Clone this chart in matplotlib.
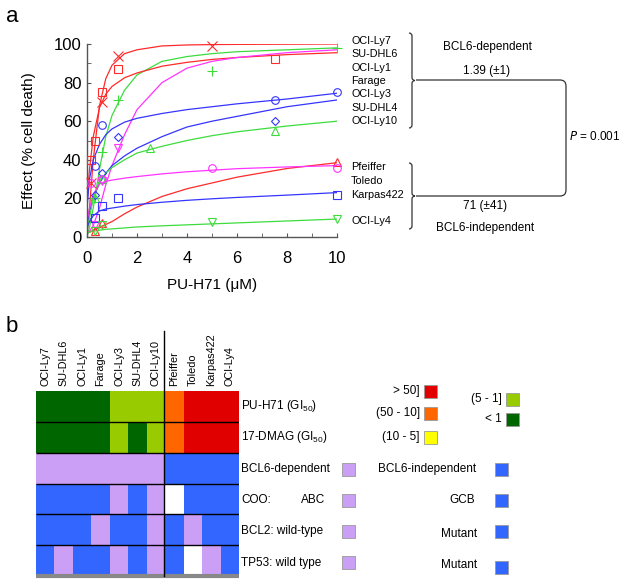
import numpy as np
import matplotlib
matplotlib.use('Agg')
import matplotlib.pyplot as plt
from matplotlib.colors import ListedColormap
from matplotlib.patches import Rectangle, PathPatch
from matplotlib.path import Path

plt.rcParams['font.family'] = ['Liberation Sans', 'DejaVu Sans']
plt.rcParams['mathtext.fontset'] = 'custom'
plt.rcParams['mathtext.rm'] = 'Liberation Sans'

# ---- panel a data ----
cell_lines = ['OCI-Ly7', 'SU-DHL6', 'OCI-Ly1', 'Farage', 'OCI-Ly3', 'SU-DHL4',
              'OCI-Ly10', 'Pfeiffer', 'Toledo', 'Karpas422', 'OCI-Ly4']

# fitted curves sampled at these doses (uM)
curve_dose = [0, 0.1, 0.25, 0.5, 0.75, 1, 1.5, 2, 3, 4, 5, 6, 8, 10]
fit_ly7 = [0, 15, 40, 68, 82, 89, 95, 97, 99, 99.5, 99.7, 99.8, 99.9, 100]
fit_dhl6 = [0, 5, 15, 35, 52, 63, 76, 84, 91, 93.5, 95, 96, 97, 98]
fit_ly1 = [20, 35, 52, 67, 74, 78, 82.5, 85, 88.5, 90.5, 92, 93, 94.5, 95.5]
fit_farage = [2, 3, 6, 15, 27, 37, 53, 66, 80, 87.5, 91, 93, 95.5, 97]
fit_ly3 = [15, 30, 40, 48, 53, 56, 59.5, 61.5, 64, 66, 67.5, 69, 71.5, 74.5]
fit_dhl4 = [5, 13, 20, 28, 33, 37, 42, 46, 52, 57, 60, 62.5, 67.5, 71]
fit_ly10 = [3, 10, 20, 29, 33, 36, 40, 43.5, 47, 50, 52.5, 54.5, 57.5, 60]
fit_pfeiffer = [2, 2.5, 3.5, 5, 6.5, 8, 12, 15.5, 21, 25, 28, 31, 35.5, 38.5]
fit_toledo = [8, 15, 22, 27.5, 28.8, 29.5, 30.5, 31.3, 32.7, 33.8, 34.6, 35.4, 36.3, 37]
fit_karpas = [5, 8, 11, 13.5, 14.5, 15, 16, 16.8, 18, 19, 19.8, 20.5, 21.7, 23]
fit_ly4 = [2, 2.5, 3, 3.5, 4, 4.2, 4.7, 5.2, 5.8, 6.3, 6.8, 7.3, 8.3, 9.3]

# measured points
pts_ly7 = ([0.15, 0.6, 1.25, 5], [28, 70, 94, 99])
pts_dhl6 = ([0.3, 0.6, 1.25, 5, 10], [20, 44, 71, 86, 98])
pts_ly1 = ([0.15, 0.3, 0.6, 1.25, 7.5], [40, 50, 75, 87, 92])
pts_farage = ([0.3, 0.6, 1.25], [6, 29, 46])
pts_ly3 = ([0.3, 0.6, 7.5, 10], [37, 58, 71, 75])
pts_dhl4 = ([0.3, 0.6, 1.25, 7.5], [22, 33, 52, 60])
pts_ly10 = ([0.3, 0.6, 2.5, 7.5], [20, 30, 46, 55])
pts_pfeiffer = ([0.3, 0.6, 10], [3, 7, 39])
pts_toledo = ([0.15, 0.6, 5, 10], [28, 30, 36, 36])
pts_karpas = ([0.3, 0.6, 1.25, 10], [10, 16, 20, 22])
pts_ly4 = ([0.3, 0.6, 5, 10], [3, 6, 8, 9.5])

fits = [fit_ly7, fit_dhl6, fit_ly1, fit_farage, fit_ly3, fit_dhl4, fit_ly10,
        fit_pfeiffer, fit_toledo, fit_karpas, fit_ly4]
points = [pts_ly7, pts_dhl6, pts_ly1, pts_farage, pts_ly3, pts_dhl4, pts_ly10,
          pts_pfeiffer, pts_toledo, pts_karpas, pts_ly4]

RED, GREEN, BLUE, MAG = '#ff2a2a', '#3ddc3d', '#3535ff', '#ff33ff'
colors = [RED, GREEN, RED, MAG, BLUE, BLUE, GREEN, RED, MAG, BLUE, GREEN]
markers = ['x', '+', 's', 'v', 'o', 'D', '^', '^', 'o', 's', 'v']
msizes = [6.5, 6.5, 5.5, 5.5, 5.5, 4.5, 5.5, 5.5, 5.5, 5.5, 5.5]

# ---- panel b data ----
gi50_levels = ['>50', '50-10', '10-5', '5-1', '<1']
gi50_colors = ['#e00000', '#ff6600', '#ffff00', '#99cc00', '#006600']
pu_h71_gi50 = ['<1', '<1', '<1', '<1', '5-1', '5-1', '5-1', '50-10', '>50', '>50', '>50']
dmag_gi50 = ['<1', '<1', '<1', '<1', '5-1', '<1', '5-1', '50-10', '>50', '>50', '>50']
bcl6 = ['dep'] * 7 + ['indep'] * 4
coo = ['GCB', 'GCB', 'GCB', 'GCB', 'ABC', 'GCB', 'ABC', 'NA', 'GCB', 'GCB', 'GCB']
bcl2 = ['mut', 'mut', 'mut', 'wt', 'mut', 'mut', 'wt', 'mut', 'wt', 'mut', 'mut']
tp53 = ['mut', 'wt', 'mut', 'mut', 'wt', 'mut', 'wt', 'mut', 'NA', 'wt', 'mut']

LAV, BLU = '#cc9ff7', '#3366ff'
status_color = {'dep': LAV, 'ABC': LAV, 'wt': LAV,
                'indep': BLU, 'GCB': BLU, 'mut': BLU, 'NA': '#ffffff'}
gi50_color = dict(zip(gi50_levels, gi50_colors))

fig = plt.figure(figsize=(6.24, 5.84), dpi=100)
W, H = 624, 584

# ---- panel a ----
ax = fig.add_axes([87 / W, 1 - 237 / H, 250 / W, 193 / H])
for fy, (px, py), c, m, ms in zip(fits, points, colors, markers, msizes):
    ax.plot(curve_dose, fy, color=c, lw=0.9, zorder=2)
    ax.plot(px, py, ls='none', marker=m, ms=ms, mfc='none', mec=c, mew=0.8,
            clip_on=False, zorder=3)
ax.set_xlim(0, 10)
ax.set_ylim(0, 100)
ax.set_xticks(range(0, 11, 2))
ax.set_xticks(range(0, 11), minor=True)
ax.set_yticks(range(0, 101, 20))
ax.set_yticks(range(0, 101, 10), minor=True)
for s in ['top', 'right']:
    ax.spines[s].set_visible(False)
for s in ['left', 'bottom']:
    ax.spines[s].set_color('#555555')
    ax.spines[s].set_linewidth(1.0)
ax.tick_params(which='both', direction='in', length=3, color='#555555', labelsize=12)
ax.tick_params(axis='x', which='both', pad=10)
ax.tick_params(axis='y', which='both', pad=4)
ax.set_xlabel('PU-H71 (\u03bcM)', fontsize=11, labelpad=9)
ax.set_ylabel('Effect (% cell death)', fontsize=11, labelpad=13)

# ---- panel b heatmap ----
hx = fig.add_axes([36 / W, 1 - 576 / H, 203 / W, 185 / H])
rows = [[gi50_color[v] for v in pu_h71_gi50],
        [gi50_color[v] for v in dmag_gi50],
        [status_color[v] for v in bcl6],
        [status_color[v] for v in coo],
        [status_color[v] for v in bcl2],
        [status_color[v] for v in tp53]]
palette = sorted(set(c for r in rows for c in r))
codes = np.array([[palette.index(c) for c in r] for r in rows])
hx.pcolormesh(np.arange(12), np.arange(7), codes, cmap=ListedColormap(palette),
              vmin=-0.5, vmax=len(palette) - 0.5)
hx.set_xlim(0, 11)
hx.set_ylim(6, 0)
hx.axis('off')
hx.hlines(range(1, 6), 0, 11, color='black', lw=1.0)
hx.hlines(6, 0, 11, color='#888888', lw=3, clip_on=False)
for i, name in enumerate(cell_lines):
    hx.text(i + 0.5, -0.15, name, rotation=90, ha='center', va='bottom', fontsize=7.8)

# ---- overlay for annotations in pixel coordinates ----
ov = fig.add_axes([0, 0, 1, 1], facecolor='none')
ov.set_xlim(0, W)
ov.set_ylim(H, 0)
ov.axis('off')

ov.text(6, 16, 'a', fontsize=16, va='center')
ov.text(6, 326, 'b', fontsize=16, va='center')

label_y = [41, 54, 68, 81, 94, 108, 121, 167, 181, 195, 221]
for name, y in zip(cell_lines, label_y):
    ov.text(351, y, name, fontsize=7.8, va='center')


def brace(x, y0, y1, r=3):
    ym = (y0 + y1) / 2
    verts = [(x - r, y0), (x, y0), (x, y0 + r), (x, ym - r), (x, ym), (x + r, ym),
             (x, ym), (x, ym + r), (x, y1 - r), (x, y1), (x - r, y1)]
    codes_ = [Path.MOVETO, Path.CURVE3, Path.CURVE3, Path.LINETO, Path.CURVE3, Path.CURVE3,
              Path.CURVE3, Path.CURVE3, Path.LINETO, Path.CURVE3, Path.CURVE3]
    ov.add_patch(PathPatch(Path(verts, codes_), fill=False, lw=0.9, ec='#333333'))


brace(412, 33, 128)
brace(412, 163, 229)
verts = [(416, 80), (560, 80), (566, 80), (566, 86), (566, 190), (566, 196), (560, 196), (416, 196)]
codes_ = [Path.MOVETO, Path.LINETO, Path.CURVE3, Path.CURVE3, Path.LINETO,
          Path.CURVE3, Path.CURVE3, Path.LINETO]
ov.add_patch(PathPatch(Path(verts, codes_), fill=False, lw=0.9, ec='#333333'))

ov.text(487, 47, 'BCL6-dependent', fontsize=8.5, ha='center', va='center')
ov.text(487, 71, '1.39 (\u00b11)', fontsize=8.5, ha='center', va='center')
ov.text(485, 206, '71 (\u00b141)', fontsize=8.5, ha='center', va='center')
ov.text(485, 228, 'BCL6-independent', fontsize=8.5, ha='center', va='center')
ov.text(569, 137, '$\\it{P}$ = 0.001', fontsize=8.5, ha='left', va='center')

# vertical separator between dependent / independent lines
ov.plot([164, 164], [331, 576], color='black', lw=1.0)

# row labels
fs = 8.5
ov.text(241, 406, 'PU-H71 (GI$_{50}$)', fontsize=fs, va='center')
ov.text(241, 437, '17-DMAG (GI$_{50}$)', fontsize=fs, va='center')
ov.text(241, 469, 'BCL6-dependent', fontsize=fs, va='center')
ov.text(241, 500, 'COO:', fontsize=fs, va='center')
ov.text(325, 500, 'ABC', fontsize=fs, va='center', ha='right')
ov.text(241, 531, 'BCL2: wild-type', fontsize=fs, va='center')
ov.text(241, 563, 'TP53: wild type', fontsize=fs, va='center')
ov.text(378, 469, 'BCL6-independent', fontsize=fs, va='center')
ov.text(475, 500, 'GCB', fontsize=fs, va='center', ha='right')
ov.text(477, 534, 'Mutant', fontsize=fs, va='center', ha='right')
ov.text(477, 565, 'Mutant', fontsize=fs, va='center', ha='right')


def swatch(x, y, c):
    ov.add_patch(Rectangle((x, y - 6.5), 13, 13, fc=c, ec='#999999', lw=0.6))


# GI50 legend
gi50_text = ['> 50]', '(50 - 10]', '(10 - 5]', '(5 - 1]', '< 1']
gi50_pos = [(424, 391), (424, 413), (424, 437), (506, 399), (506, 419)]
for t, c, (x, y) in zip(gi50_text, gi50_colors, gi50_pos):
    swatch(x, y, c)
    ov.text(x - 4, y, t, fontsize=fs, ha='right', va='center')

for y in [469, 500, 531, 562]:
    swatch(342, y, LAV)
for y in [469, 500, 531, 567]:
    swatch(495, y, BLU)

fig.savefig('out.png', dpi=100)
